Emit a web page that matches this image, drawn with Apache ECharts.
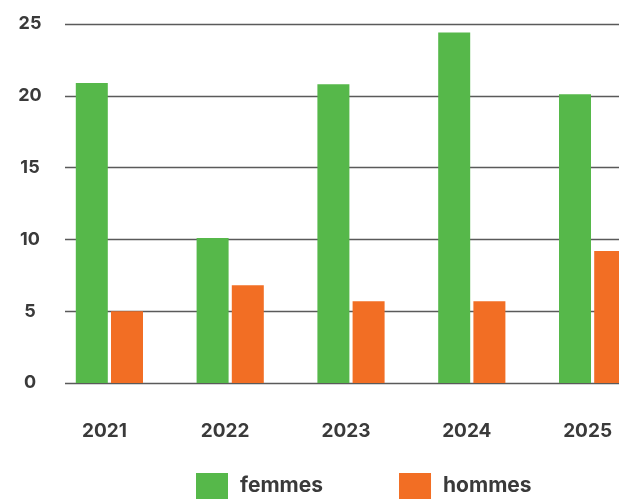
<!DOCTYPE html>
<html>
<head>
<meta charset="utf-8">
<script src="https://cdn.jsdelivr.net/npm/echarts@6/dist/echarts.min.js"></script>
<style>
  html, body { margin: 0; padding: 0; background: #fff; }
  #chart { width: 619px; height: 499px; }
</style>
</head>
<body>
<div id="chart"></div>
<script>
const years = ['2021', '2022', '2023', '2024', '2025'];
const femmes = [20.9, 10.1, 20.8, 24.4, 20.1];
const hommes = [5.0, 6.8, 5.7, 5.7, 9.2];
const yTicks = [0, 5, 10, 15, 20, 25];

const textColor = '#3a3a3a';
const font = 'Inter, "Noto Sans", sans-serif';

const chart = echarts.init(document.getElementById('chart'));
chart.setOption({
  animation: false,
  textStyle: { fontFamily: font },
  grid: [
    // grid carrying the y labels and gridlines
    { left: 65, right: 0, top: 24, height: 359, outerBoundsMode: 'none' },
    // grid for bars, wider than the canvas (chart is cropped on the right)
    { left: 49, width: 604, top: 24, height: 359, outerBoundsMode: 'none' }
  ],
  legend: {
    left: 196,
    top: 473,
    padding: 0,
    itemWidth: 32,
    itemHeight: 26,
    itemGap: 76,
    icon: 'rect',
    textStyle: { color: textColor, fontSize: 21, fontWeight: 'bold', fontFamily: font, padding: [2, 0, 0, 7] },
    data: ['femmes', 'hommes']
  },
  xAxis: [
    { gridIndex: 0, type: 'value', min: 0, max: 1, show: false },
    {
      gridIndex: 1,
      type: 'category',
      data: years,
      axisLine: { show: false },
      axisTick: { show: false },
      axisLabel: {
        color: textColor, fontSize: 19, fontWeight: 'bold', fontFamily: font,
        margin: 39, padding: [0, 10, 0, 0]
      }
    }
  ],
  yAxis: [
    {
      gridIndex: 0,
      type: 'value',
      min: yTicks[0],
      max: yTicks[yTicks.length - 1],
      interval: 5,
      axisLine: { show: false },
      axisTick: { show: false },
      splitLine: { lineStyle: { color: '#5a5a5a', width: 1.4 } },
      axisLabel: {
        color: textColor, fontSize: 18, fontWeight: 'bold', fontFamily: font,
        align: 'center', margin: 35
      }
    },
    {
      gridIndex: 1,
      type: 'value',
      min: yTicks[0],
      max: yTicks[yTicks.length - 1],
      show: false
    }
  ],
  series: [
    {
      name: 'femmes',
      type: 'bar',
      xAxisIndex: 1,
      yAxisIndex: 1,
      data: femmes,
      barWidth: 32,
      barGap: '10%',
      itemStyle: { color: '#56b84a' }
    },
    {
      name: 'hommes',
      type: 'bar',
      xAxisIndex: 1,
      yAxisIndex: 1,
      data: hommes,
      barWidth: 32,
      itemStyle: { color: '#f26e24' }
    }
  ]
});
</script>
</body>
</html>
